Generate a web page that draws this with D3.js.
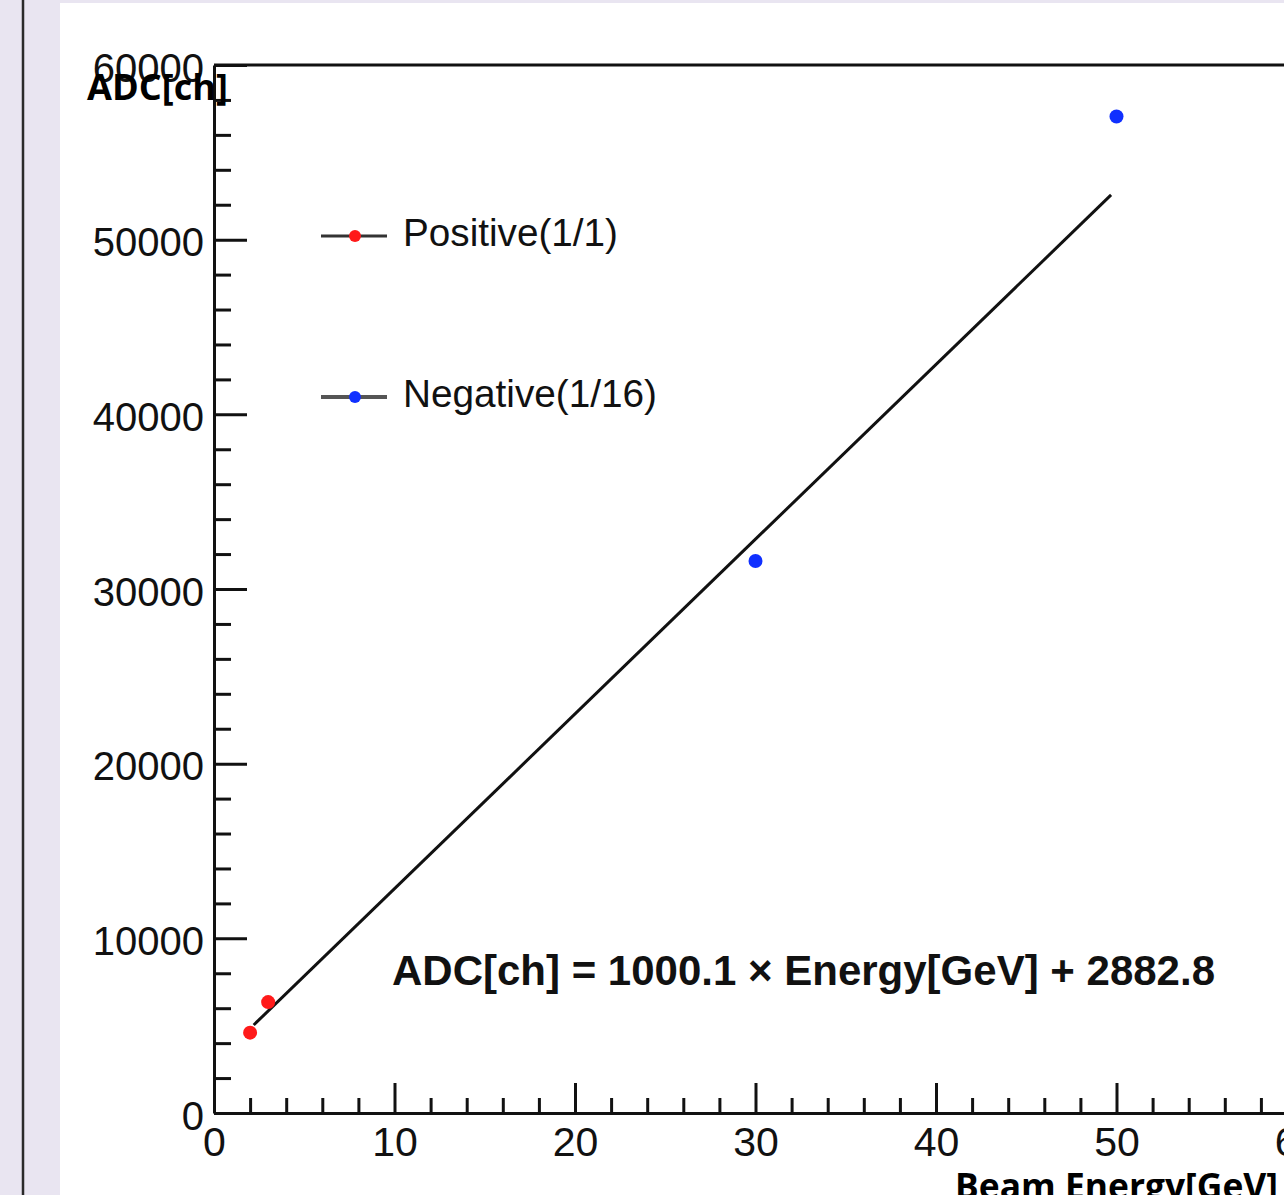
<!DOCTYPE html>
<html>
<head>
<meta charset="utf-8">
<script src="https://cdn.jsdelivr.net/npm/d3@7"></script>
<style>
  html, body { margin: 0; padding: 0; background: #e9e5f1; }
  svg { display: block; }
</style>
</head>
<body>
<div id="chart"></div>
<script>
// data
const positiveEnergy = [2, 3];
const positiveADC = [4600, 6350];
const negativeEnergy = [30, 50];
const negativeADC = [31600, 57050];
// fitted line end points
const fitEnergy = [2.2, 49.7];
const fitADC = [5040, 52560];

const xMajorTicks = [0, 10, 20, 30, 40, 50, 60];
const yMajorTicks = [0, 10000, 20000, 30000, 40000, 50000, 60000];
const legendLabels = ["Positive(1/1)", "Negative(1/16)"];
const fitLabel = "ADC[ch] = 1000.1 \u00d7 Energy[GeV] + 2882.8";

const W = 1284, H = 1195;
const svg = d3.select("#chart").append("svg")
  .attr("width", W).attr("height", H);

// page backdrop: lavender, dark rule at left, white pad
svg.append("rect").attr("width", W).attr("height", H).attr("fill", "#e9e5f1");
svg.append("line")
  .attr("x1", 23).attr("x2", 23).attr("y1", 0).attr("y2", H)
  .attr("stroke", "#2a2a2a").attr("stroke-width", 2.5);
svg.append("rect")
  .attr("x", 60).attr("y", 3).attr("width", W - 60).attr("height", H - 3)
  .attr("fill", "#fff");

const x = d3.scaleLinear().domain([0, 60]).range([214, 1297]);
const y = d3.scaleLinear().domain([0, 60000]).range([1113, 65]);

const tickFont = "'Liberation Sans', Arial, Helvetica, sans-serif";
const ink = "#111";

// frame top
svg.append("line")
  .attr("x1", x(0)).attr("x2", W + 10)
  .attr("y1", y(60000)).attr("y2", y(60000))
  .attr("stroke", ink).attr("stroke-width", 3);

// minor ticks
const xMinor = d3.range(0, 61, 2).filter(v => v % 10 !== 0);
const yMinor = d3.range(0, 60001, 2000).filter(v => v % 10000 !== 0);

svg.append("g")
  .attr("transform", `translate(0,${y(0)})`)
  .call(d3.axisBottom(x).tickValues(xMinor).tickSize(-15).tickSizeOuter(0).tickFormat(""))
  .call(g => g.select(".domain").remove())
  .selectAll("line").attr("stroke", ink).attr("stroke-width", 3);

svg.append("g")
  .attr("transform", `translate(${x(0)},0)`)
  .call(d3.axisLeft(y).tickValues(yMinor).tickSize(-17).tickSizeOuter(0).tickFormat(""))
  .call(g => g.select(".domain").remove())
  .selectAll("line").attr("stroke", ink).attr("stroke-width", 3);

// major axes
const xAxis = svg.append("g")
  .attr("transform", `translate(0,${y(0)})`)
  .call(d3.axisBottom(x).tickValues(xMajorTicks).tickSize(-30).tickSizeOuter(0)
    .tickPadding(14).tickFormat(d3.format("d")));
xAxis.select(".domain").attr("stroke", ink).attr("stroke-width", 3);
xAxis.selectAll("line").attr("stroke", ink).attr("stroke-width", 3);
xAxis.selectAll("text")
  .attr("font-family", tickFont).attr("font-size", 41).attr("fill", ink);

const yAxis = svg.append("g")
  .attr("transform", `translate(${x(0)},0)`)
  .call(d3.axisLeft(y).tickValues(yMajorTicks).tickSize(-33).tickSizeOuter(0)
    .tickPadding(10).tickFormat(d3.format("d")));
yAxis.select(".domain").attr("stroke", ink).attr("stroke-width", 3);
yAxis.selectAll("line").attr("stroke", ink).attr("stroke-width", 3);
yAxis.selectAll("text")
  .attr("font-family", tickFont).attr("font-size", 40).attr("fill", ink)
  .attr("dy", "0.40em");

// fit line
const line = d3.line().x(d => x(d[0])).y(d => y(d[1]));
svg.append("path")
  .datum(d3.zip(fitEnergy, fitADC))
  .attr("d", line)
  .attr("fill", "none").attr("stroke", ink).attr("stroke-width", 3);

// points
const series = [
  { E: positiveEnergy, A: positiveADC, color: "#ff1a1a" },
  { E: negativeEnergy, A: negativeADC, color: "#1030ff" }
];
series.forEach(s => {
  svg.append("g").selectAll("circle")
    .data(d3.zip(s.E, s.A))
    .join("circle")
    .attr("cx", d => x(d[0])).attr("cy", d => y(d[1]))
    .attr("r", 7).attr("fill", s.color);
});

// legend
const legend = svg.append("g");
const legendY = [236, 397];
legendLabels.forEach((lab, i) => {
  const g = legend.append("g").attr("transform", `translate(0,${legendY[i]})`);
  g.append("line").attr("x1", 321).attr("x2", 387)
    .attr("stroke", i === 0 ? "#333" : "#555").attr("stroke-width", i === 0 ? 3 : 4);
  g.append("circle").attr("cx", 355).attr("r", 6).attr("fill", series[i].color);
  g.append("text").attr("x", 403).attr("y", 10)
    .attr("font-family", tickFont).attr("font-size", 38).attr("fill", ink)
    .attr("textLength", i === 0 ? 215 : 254).attr("lengthAdjust", "spacingAndGlyphs")
    .text(lab);
});

// fit equation
svg.append("text")
  .attr("x", 392).attr("y", 985)
  .attr("font-family", tickFont).attr("font-weight", "bold")
  .attr("font-size", 43).attr("fill", ink)
  .attr("textLength", 823).attr("lengthAdjust", "spacingAndGlyphs")
  .text(fitLabel);

// axis titles
const titleFont = "'Open Sans', 'DejaVu Sans', sans-serif";
svg.append("text")
  .attr("x", 87).attr("y", 100)
  .attr("font-family", titleFont).attr("font-weight", "bold")
  .attr("font-size", 36).attr("fill", "#000")
  .attr("textLength", 141).attr("lengthAdjust", "spacingAndGlyphs")
  .text("ADC[ch]");

svg.append("text")
  .attr("x", 955).attr("y", 1199)
  .attr("font-family", titleFont).attr("font-weight", "bold")
  .attr("font-size", 36).attr("fill", "#000")
  .attr("textLength", 323).attr("lengthAdjust", "spacingAndGlyphs")
  .text("Beam Energy[GeV]");
</script>
</body>
</html>
